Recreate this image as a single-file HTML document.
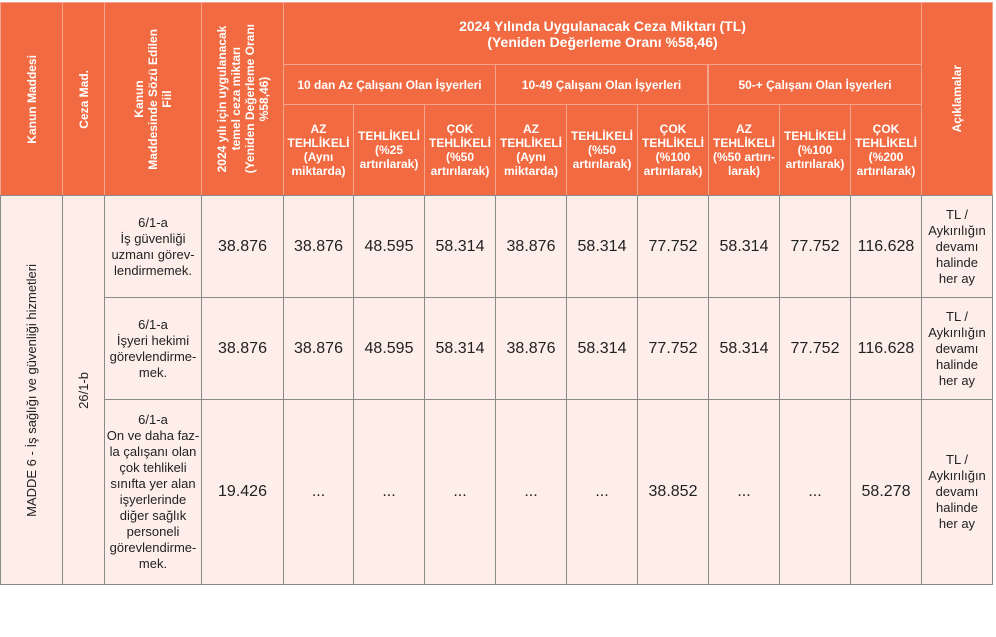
<!DOCTYPE html>
<html><head><meta charset="utf-8"><style>
body{margin:0;width:996px;height:637px;background:#fff;position:relative;overflow:hidden;font-family:"Liberation Sans Narrow","Liberation Sans",sans-serif;}
.c{position:absolute;box-sizing:border-box;display:flex;align-items:center;justify-content:center;text-align:center;}
.h{background:#F26A41;color:#fff;font-weight:bold;font-size:12px;line-height:14px;border:1px solid #f3a58c;}
.b{background:#FDEEEA;color:#222;border:1px solid #8a8a8a;font-size:13px;line-height:16px;}
.n{font-size:16px;}
.v{writing-mode:vertical-rl;transform:rotate(180deg);}
</style></head><body>
<div class="c h" style="left:0;top:2px;width:63px;height:194px"><span class="v">Kanun Maddesi</span></div>
<div class="c h" style="left:62px;top:2px;width:43px;height:194px"><span class="v">Ceza Mad.</span></div>
<div class="c h" style="left:104px;top:2px;width:98px;height:194px"><span class="v">Kanun<br>Maddesinde Sözü Edilen<br>Fiil</span></div>
<div class="c h" style="left:201px;top:2px;width:83px;height:194px"><span class="v">2024 yılı için uygulanacak<br>temel ceza miktarı<br>(Yeniden Değerleme Oranı<br>%58,46)</span></div>
<div class="c h" style="left:283px;top:2px;width:639px;height:63px;font-size:14px;line-height:16px">2024 Yılında Uygulanacak Ceza Miktarı (TL)<br>(Yeniden Değerleme Oranı %58,46)</div>
<div class="c h" style="left:921px;top:2px;width:72px;height:194px"><span class="v">Açıklamalar</span></div>
<div class="c h" style="left:283px;top:64px;width:213px;height:41px">10 dan Az Çalışanı Olan İşyerleri</div>
<div class="c h" style="left:495px;top:64px;width:213px;height:41px">10-49 Çalışanı Olan İşyerleri</div>
<div class="c h" style="left:708px;top:64px;width:214px;height:41px">50-+ Çalışanı Olan İşyerleri</div>
<div class="c h" style="left:283px;top:104px;width:71px;height:92px">AZ<br>TEHLİKELİ<br>(Aynı<br>miktarda)</div>
<div class="c h" style="left:353px;top:104px;width:72px;height:92px">TEHLİKELİ<br>(%25<br>artırılarak)</div>
<div class="c h" style="left:424px;top:104px;width:72px;height:92px">ÇOK<br>TEHLİKELİ<br>(%50<br>artırılarak)</div>
<div class="c h" style="left:495px;top:104px;width:72px;height:92px">AZ<br>TEHLİKELİ<br>(Aynı<br>miktarda)</div>
<div class="c h" style="left:566px;top:104px;width:72px;height:92px">TEHLİKELİ<br>(%50<br>artırılarak)</div>
<div class="c h" style="left:637px;top:104px;width:72px;height:92px">ÇOK<br>TEHLİKELİ<br>(%100<br>artırılarak)</div>
<div class="c h" style="left:708px;top:104px;width:72px;height:92px">AZ<br>TEHLİKELİ<br>(%50 artırı-<br>larak)</div>
<div class="c h" style="left:779px;top:104px;width:72px;height:92px">TEHLİKELİ<br>(%100<br>artırılarak)</div>
<div class="c h" style="left:850px;top:104px;width:72px;height:92px">ÇOK<br>TEHLİKELİ<br>(%200<br>artırılarak)</div>

<div class="c b" style="left:0;top:195px;width:63px;height:390px"><span class="v">MADDE 6 - İş sağlığı ve güvenliği hizmetleri</span></div>
<div class="c b" style="left:62px;top:195px;width:43px;height:390px"><span class="v">26/1-b</span></div>

<div class="c b" style="left:104px;top:195px;width:98px;height:104px">6/1-a<br>İş güvenliği<br>uzmanı görev-<br>lendirmemek.</div>
<div class="c b" style="left:104px;top:297px;width:98px;height:104px">6/1-a<br>İşyeri hekimi<br>görevlendirme-<br>mek.</div>
<div class="c b" style="left:104px;top:399px;width:98px;height:186px">6/1-a<br>On ve daha faz-<br>la çalışanı olan<br>çok tehlikeli<br>sınıfta yer alan<br>işyerlerinde<br>diğer sağlık<br>personeli<br>görevlendirme-<br>mek.</div>

<div id="vals"></div>
<script>
const rowTops=[195,297,399];
const rowHeights=[104,104,186];
const colLefts=[201,283,353,424,495,566,637,708,779,850];
const row1=["38.876","38.876","48.595","58.314","38.876","58.314","77.752","58.314","77.752","116.628"];
const row2=["38.876","38.876","48.595","58.314","38.876","58.314","77.752","58.314","77.752","116.628"];
const row3=["19.426","...","...","...","...","...","38.852","...","...","58.278"];
const rows=[row1,row2,row3];
const notes=["TL /<br>Aykırılığın<br>devamı<br>halinde<br>her ay","TL /<br>Aykırılığın<br>devamı<br>halinde<br>her ay","TL /<br>Aykırılığın<br>devamı<br>halinde<br>her ay"];
rows.forEach((r,ri)=>{
  r.forEach((v,ci)=>{
    const d=document.createElement('div');
    d.className='c b n';
    
    
    const w=(ci+1<colLefts.length?colLefts[ci+1]:921)-colLefts[ci]+1;
    d.style.cssText=`left:${colLefts[ci]}px;top:${rowTops[ri]}px;width:${w}px;height:${rowHeights[ri]}px`;
    d.textContent=v;
    document.body.appendChild(d);
  });
  const a=document.createElement('div');
  a.className='c b';
  
  
  a.style.cssText=`left:921px;top:${rowTops[ri]}px;width:72px;height:${rowHeights[ri]}px`;
  a.innerHTML=notes[ri];
  document.body.appendChild(a);
});
</script>
</body></html>
